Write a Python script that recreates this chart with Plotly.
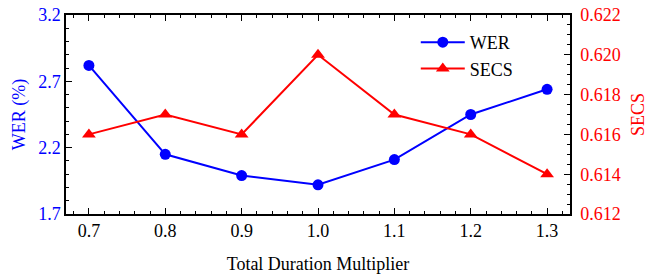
import plotly.graph_objects as go

multiplier = [0.7, 0.8, 0.9, 1.0, 1.1, 1.2, 1.3]
wer = [2.82, 2.15, 1.99, 1.92, 2.11, 2.45, 2.64]
secs = [0.616, 0.617, 0.616, 0.620, 0.617, 0.616, 0.614]

BLUE = "#0000ff"
RED = "#ff0000"
FONT = "Liberation Serif"

fig = go.Figure()
fig.add_trace(go.Scatter(x=multiplier, y=wer, name="WER", mode="lines+markers",
                         line=dict(color=BLUE, width=2),
                         marker=dict(symbol="circle", size=11, color=BLUE)))
fig.add_trace(go.Scatter(x=multiplier, y=secs, name="SECS", mode="lines+markers",
                         line=dict(color=RED, width=2),
                         marker=dict(symbol="triangle-up", size=12, color=RED),
                         yaxis="y2"))

fig.update_layout(
    width=656, height=274,
    margin=dict(l=66, r=86, t=15, b=60, autoexpand=False),
    paper_bgcolor="white", plot_bgcolor="white",
    font=dict(family=FONT, size=18, color="black"),
    showlegend=True,
    legend=dict(x=0.694, y=0.955, xanchor="left", yanchor="top",
                bgcolor="rgba(0,0,0,0)", font=dict(size=18, family=FONT),
                itemwidth=44, tracegroupgap=0),
    xaxis=dict(range=[0.67, 1.33], tickvals=multiplier,
               ticktext=["0.7", "0.8", "0.9", "1.0", "1.1", "1.2", "1.3"],
               ticks="inside", ticklen=6, tickwidth=1, tickcolor="black",
               showline=True, linecolor="black", linewidth=1.5, mirror="ticks",
               showgrid=False, zeroline=False, automargin=False,
               minor=dict(dtick=0.02, tick0=0.7, ticks="inside", ticklen=3, tickcolor="black"),
               title=dict(text="Total Duration Multiplier", font=dict(size=18, family=FONT), standoff=18),
               tickfont=dict(size=18, family=FONT, color="black")),
    yaxis=dict(range=[1.7, 3.2], tickvals=[1.7, 2.2, 2.7, 3.2],
               ticktext=["1.7", "2.2", "2.7", "3.2"],
               ticks="inside", ticklen=6, tickwidth=1, tickcolor="black",
               showline=True, linecolor="black", linewidth=1.5,
               showgrid=False, zeroline=False, automargin=False,
               minor=dict(dtick=0.1, tick0=1.7, ticks="inside", ticklen=3, tickcolor="black"),
               tickfont=dict(color=BLUE, size=18, family=FONT),
               title=dict(text="WER (%)", font=dict(color=BLUE, size=18, family=FONT), standoff=8)),
    yaxis2=dict(range=[0.612, 0.622], overlaying="y", side="right",
                tickvals=[0.612, 0.614, 0.616, 0.618, 0.620, 0.622],
                ticktext=["0.612", "0.614", "0.616", "0.618", "0.620", "0.622"],
                ticks="inside", ticklen=6, tickwidth=1, tickcolor="black",
                showline=True, linecolor="black", linewidth=1.5,
                showgrid=False, zeroline=False, automargin=False,
                ticklabelstandoff=5,
                minor=dict(dtick=0.0005, tick0=0.612, ticks="inside", ticklen=3, tickcolor="black"),
                tickfont=dict(color=RED, size=18, family=FONT),
                title=dict(text="SECS", font=dict(color=RED, size=18, family=FONT), standoff=12)),
)

fig.write_html("out.html", config={"displayModeBar": False},
               post_script="document.body.style.margin='0';")
